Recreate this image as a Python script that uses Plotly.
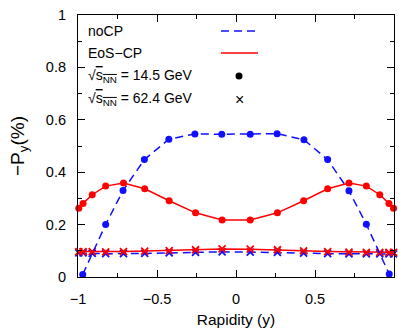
import plotly.graph_objects as go

# ---- data ----
rap_nocp = [-0.97, -0.825, -0.715, -0.58, -0.425, -0.26, -0.09,
            0.09, 0.26, 0.43, 0.58, 0.715, 0.825, 0.97]
nocp_145 = [0.010, 0.200, 0.330, 0.448, 0.526, 0.546, 0.545,
            0.545, 0.547, 0.524, 0.448, 0.329, 0.201, 0.011]

rap_cp = [-0.995, -0.968, -0.91, -0.825, -0.712, -0.578, -0.423, -0.256, -0.088,
          0.09, 0.262, 0.428, 0.58, 0.715, 0.825, 0.91, 0.968, 0.997]
cp_145 = [0.262, 0.281, 0.314, 0.347, 0.359, 0.337, 0.291, 0.245, 0.218,
          0.218, 0.245, 0.291, 0.337, 0.359, 0.347, 0.314, 0.281, 0.262]
cp_624 = [0.097, 0.097, 0.097, 0.096, 0.097, 0.099, 0.101, 0.104, 0.107,
          0.106, 0.104, 0.100, 0.097, 0.095, 0.094, 0.094, 0.094, 0.094]
nocp_624 = [0.092, 0.092, 0.090, 0.089, 0.089, 0.090, 0.092, 0.094, 0.096,
            0.095, 0.094, 0.091, 0.089, 0.088, 0.088, 0.088, 0.088, 0.088]

x_ticks = [-1, -0.5, 0, 0.5, 1]
x_ticklabels = ["\u22121", "\u22120.5", "0", "0.5", "1"]
y_ticks = [0, 0.2, 0.4, 0.6, 0.8, 1]
y_ticklabels = ["0", "0.2", "0.4", "0.6", "0.8", "1"]

legend_labels = ["noCP", "EoS\u2212CP",
                 "\u221a<span style='text-decoration:overline'>s<sub>NN</sub></span> = 14.5 GeV",
                 "\u221a<span style='text-decoration:overline'>s<sub>NN</sub></span> = 62.4 GeV"]

BLUE = "#1010ff"
RED = "#ff0000"
FONT = "Liberation Sans, Arial, sans-serif"

fig = go.Figure()

# 62.4 GeV (crosses)
fig.add_trace(go.Scatter(x=rap_cp, y=nocp_624, mode="lines+markers",
                         line=dict(color=BLUE, width=1.5, dash="8px,5px"),
                         marker=dict(symbol="x-thin", size=7, line=dict(color=BLUE, width=1.8)),
                         showlegend=False, cliponaxis=False))
fig.add_trace(go.Scatter(x=rap_cp, y=cp_624, mode="lines+markers",
                         line=dict(color=RED, width=1.5),
                         marker=dict(symbol="x-thin", size=7, line=dict(color=RED, width=1.8)),
                         showlegend=False, cliponaxis=False))
# 14.5 GeV (dots)
fig.add_trace(go.Scatter(x=rap_nocp, y=nocp_145, mode="lines+markers",
                         line=dict(color=BLUE, width=1.5, dash="8px,5px"),
                         marker=dict(symbol="circle", size=7, color=BLUE),
                         showlegend=False, cliponaxis=False))
fig.add_trace(go.Scatter(x=rap_cp, y=cp_145, mode="lines+markers",
                         line=dict(color=RED, width=1.5),
                         marker=dict(symbol="circle", size=7, color=RED),
                         showlegend=False, cliponaxis=False))

# ---- gnuplot-style key (paper coords) ----
L, R, T, B = 78, 394, 15, 277
def px(x):
    return (x - L) / (R - L)
def py(y):
    return (B - y) / (B - T)

rows = [31, 53, 76, 99]
annotations = []
for lab, yy in zip(legend_labels, rows):
    annotations.append(dict(x=px(86), y=py(yy), xref="paper", yref="paper",
                            text=lab, showarrow=False, xanchor="left", yanchor="middle",
                            font=dict(family=FONT, size=14, color="black")))
annotations.append(dict(x=px(239), y=py(rows[3]), xref="paper", yref="paper",
                        text="\u00d7", showarrow=False, xanchor="center", yanchor="middle",
                        font=dict(family=FONT, size=16, color="black")))
r = 3.5
shapes = [
    dict(type="line", xref="paper", yref="paper", x0=px(221), x1=px(258), y0=py(rows[0]), y1=py(rows[0]),
         line=dict(color=BLUE, width=1.5, dash="8px,5px")),
    dict(type="line", xref="paper", yref="paper", x0=px(221), x1=px(258), y0=py(rows[1]), y1=py(rows[1]),
         line=dict(color=RED, width=1.5)),
    dict(type="circle", xref="paper", yref="paper", x0=px(239 - r), x1=px(239 + r),
         y0=py(rows[2] + r), y1=py(rows[2] - r), fillcolor="black", line=dict(color="black", width=0)),
]

axis_common = dict(showgrid=False, zeroline=False, showline=True, linecolor="black", linewidth=1.2,
                   mirror="ticks", ticks="inside", ticklen=7, tickwidth=1, tickcolor="black",
                   automargin=False,
                   tickfont=dict(family=FONT, size=14.5, color="black"))

fig.update_layout(
    width=398, height=332,
    margin=dict(l=L, r=398 - R, t=T, b=332 - B),
    paper_bgcolor="white", plot_bgcolor="white",
    font=dict(family=FONT, color="black"),
    xaxis=dict(range=[-1, 1], tickvals=x_ticks, ticktext=x_ticklabels,
               minor=dict(dtick=0.25, ticks="inside", ticklen=4, tickcolor="black", tickwidth=1),
               ticklabelstandoff=8,
               title=dict(text="Rapidity (y)", font=dict(family=FONT, size=15.5), standoff=8),
               **axis_common),
    yaxis=dict(range=[0, 1], tickvals=y_ticks, ticktext=y_ticklabels,
               minor=dict(dtick=0.1, ticks="inside", ticklen=4, tickcolor="black", tickwidth=1),
               ticklabelstandoff=8,
               title=dict(text="\u2212P<sub>y</sub>(%)", font=dict(family=FONT, size=19), standoff=16),
               **axis_common),
    annotations=annotations,
    shapes=shapes,
)

fig.write_html("out.html", post_script="document.body.style.margin='0';",
               config={"displayModeBar": False})
